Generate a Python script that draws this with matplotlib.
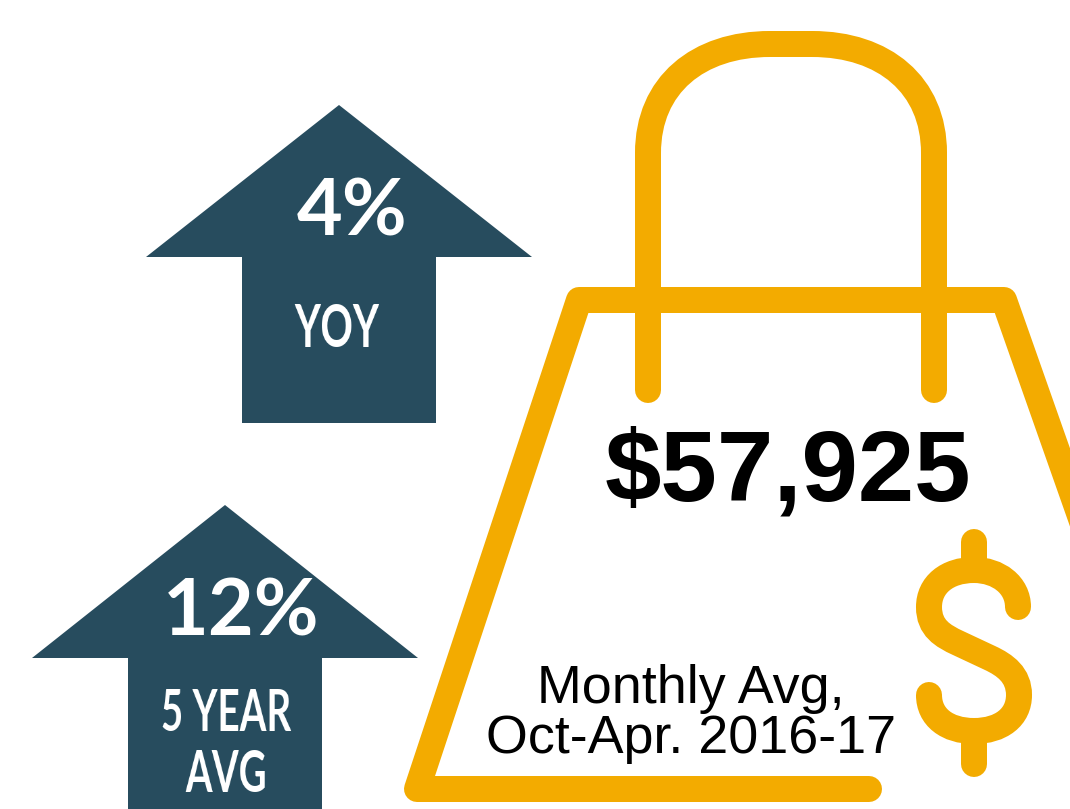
import matplotlib
matplotlib.use("Agg")
import numpy as np
import matplotlib.pyplot as plt
from matplotlib.patches import Polygon, PathPatch
from matplotlib.path import Path

navy = "#274C5E"
gold = "#F3AB00"

pct_labels = ["4%", "12%"]
sub_labels = ["YOY", "5 YEAR\nAVG"]
amount = "$57,925"
caption = "Monthly Avg,\nOct-Apr. 2016-17"

fig = plt.figure(figsize=(10.7, 8.09), dpi=100)
ax = fig.add_axes([0, 0, 1, 1])
ax.set_xlim(0, 1070)
ax.set_ylim(809, 0)
ax.axis("off")


def arrow(cx, top, shoulder, bottom):
    pts = [(cx, top), (cx + 193, shoulder), (cx + 97, shoulder), (cx + 97, bottom),
           (cx - 97, bottom), (cx - 97, shoulder), (cx - 193, shoulder)]
    ax.add_patch(Polygon(pts, closed=True, fc=navy, ec="none"))


# no condensed font is installed, so squeeze the drawn text sideways
def squeeze(img, dpi, f=0.68):
    h, w, n = img.shape
    new_w = int(w * f)
    xs = np.linspace(0, w - 1, new_w)
    out = np.zeros((h, new_w, n), dtype=img.dtype)
    for row in range(h):
        for c in range(n):
            out[row, :, c] = np.interp(xs, np.arange(w), img[row, :, c])
    return out, (w - new_w) // 2, 0


arrow(339, 105, 257, 423)
arrow(225, 505, 658, 830)

ax.text(352, 213, pct_labels[0], color="white", fontsize=57, fontweight="bold",
        family="Lato", ha="center", va="center")
t1 = ax.text(337, 330, sub_labels[0], color="white", fontsize=43, fontweight="bold",
             family="Lato", ha="center", va="center")
ax.text(241, 614, pct_labels[1], color="white", fontsize=57, fontweight="bold",
        family="Lato", ha="center", va="center")
t2 = ax.text(226, 745, sub_labels[1], color="white", fontsize=41, fontweight="bold",
             family="Lato", ha="center", va="center", linespacing=1.2)
t1.set_agg_filter(squeeze)
t2.set_agg_filter(squeeze)

lw = 26 * 72 / 100
M, L, C = Path.MOVETO, Path.LINETO, Path.CURVE4

# handle
handle = Path([(648, 390), (648, 153), (648, 85), (698, 44), (770, 44),
               (812, 44), (884, 44), (934, 85), (934, 153), (934, 390)],
              [M, L, C, C, C, L, C, C, C, L])
ax.add_patch(PathPatch(handle, fc="none", ec=gold, lw=lw, capstyle="round", joinstyle="round"))

# weight outline, faint face stops agg cutting the stroke at the canvas edge
body = Path([(869, 789), (417, 789), (579, 300), (1004, 300), (1085, 530)],
            [M, L, L, L, L])
ax.add_patch(PathPatch(body, fc=(1, 1, 1, 0.001), ec=gold, lw=lw, capstyle="round",
                       joinstyle="round"))

# dollar sign
s = Path([(1018, 607), (1018, 585), (998, 570), (974, 570),
          (947, 570), (929, 585), (929, 607),
          (929, 628), (943, 636), (958, 643),
          (990, 658),
          (1005, 665), (1019, 675), (1019, 695),
          (1019, 717), (1001, 731), (974, 731),
          (947, 731), (929, 717), (929, 695)],
         [M, C, C, C, C, C, C, C, C, C, L, C, C, C, C, C, C, C, C, C])
ax.add_patch(PathPatch(s, fc="none", ec=gold, lw=lw, capstyle="round"))
ax.plot([974, 974], [541.5, 570], color=gold, lw=lw, solid_capstyle="round")
ax.plot([974, 974], [731, 764], color=gold, lw=lw, solid_capstyle="round")

ax.text(788, 475, amount, color="black", fontsize=73, fontweight="bold",
        family="Liberation Sans", ha="center", va="center")
ax.text(691, 714, caption, color="black", fontsize=38.8, family="Liberation Sans",
        ha="center", va="center", linespacing=1.0)

fig.savefig("out.png", dpi=100)
